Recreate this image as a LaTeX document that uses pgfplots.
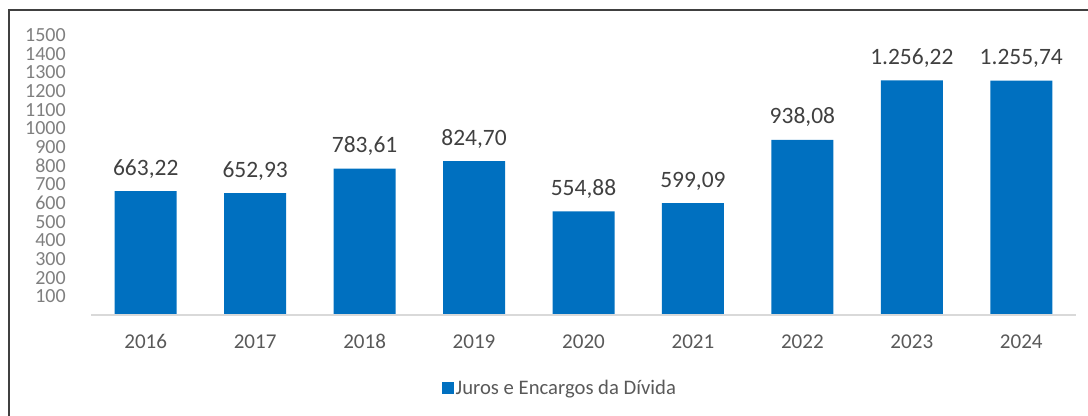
\documentclass[border=0pt]{standalone}
\usepackage{fontspec}
\setmainfont{Carlito}
\usepackage{pgfplots}
\pgfplotsset{compat=1.18}
\definecolor{barblue}{HTML}{0070C0}
\definecolor{labgray}{HTML}{595959}
\definecolor{tickgray}{HTML}{7F7F7F}
\definecolor{valgray}{HTML}{404040}
\definecolor{framegray}{HTML}{404040}
\definecolor{axgray}{HTML}{D9D9D9}

\begin{document}
\begin{tikzpicture}
% page is 1088 x 416 px at 0.75pt per px
\useasboundingbox (0pt,0pt) rectangle (816pt,312pt);
\draw[framegray, line width=1.6pt] (6.75pt,0pt) -- (6.75pt,304.5pt) -- (816pt,304.5pt);

\begin{axis}[
 at={(68.25pt,75.75pt)}, anchor=south west,
 scale only axis,
 width=738.75pt, height=210pt,
 xmin=-0.5, xmax=8.5,
 ymin=0, ymax=1500,
 ybar, bar width=46.5pt, bar shift=0pt,
 axis line style={draw=none},
 major tick length=0pt,
 xtick=data,
 xticklabels={2016,2017,2018,2019,2020,2021,2022,2023,2024},
 ytick={100,200,...,1500},
 /pgf/number format/assume math mode=true,
 yticklabel style={/pgf/number format/1000 sep={}, font=\fontsize{15}{15}\selectfont,
 text=tickgray, anchor=east, inner sep=0pt, xshift=-18.75pt},
 xticklabel style={font=\fontsize{15.8}{16}\selectfont, text=labgray,
 anchor=base, inner sep=0pt, yshift=-25.5pt},
 nodes near coords,
 nodes near coords style={font=\fontsize{17.6}{18}\selectfont, text=valgray,
 anchor=base, inner sep=0pt, yshift=12pt,
 /pgf/number format/.cd, fixed, precision=2, fixed zerofill, use comma},
 clip=false,
 legend style={at={(0.476,-0.2607)}, anchor=center, draw=none, fill=none,
 font=\fontsize{15.5}{16}\selectfont, text=labgray,
 nodes={inner sep=1.5pt}},
 legend image code/.code={\fill[barblue] (0pt,-4.5pt) rectangle (9pt,4.5pt);},
]
\addplot[fill=barblue, draw=none] coordinates {
 (0,663.22) (1,652.93) (2,783.61) (3,824.70) (4,554.88)
 (5,599.09) (6,938.08) (7,1256.22) (8,1255.74)};
\addlegendentry{Juros e Encargos da Dívida}
\draw[axgray, line width=1.1pt] (axis cs:-0.5,0) -- (axis cs:8.5,0);
\end{axis}
\end{tikzpicture}
\end{document}
